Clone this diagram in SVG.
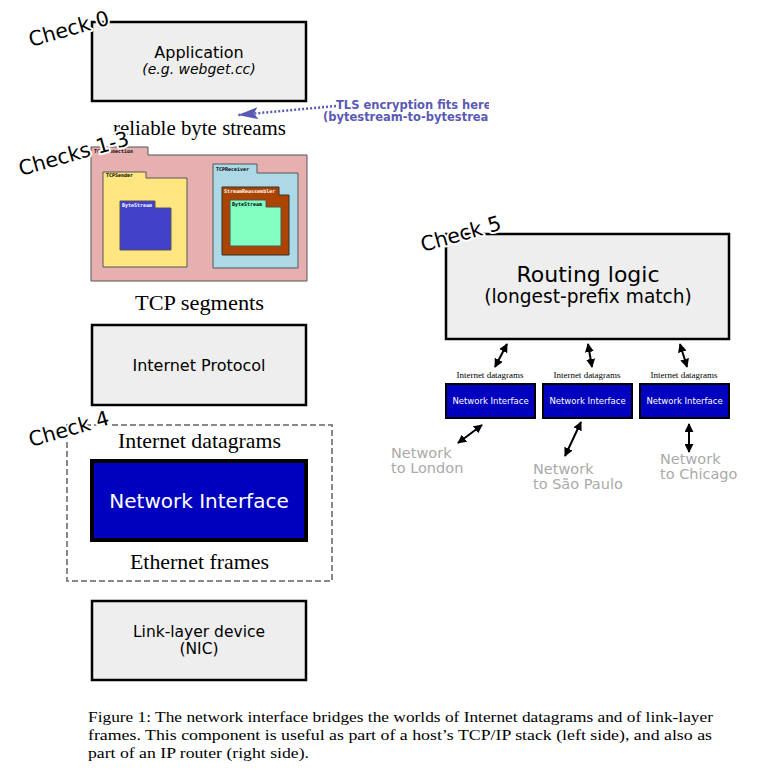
<svg xmlns="http://www.w3.org/2000/svg" width="779" height="778" viewBox="0 0 779 778">
  <defs>
    <style>
      .box { fill: #eeeeee; stroke: #000; stroke-width: 2.5; }
      .ni { fill: #0000bf; stroke: #000; }
      .sans { font-family: "DejaVu Sans", "Liberation Sans", sans-serif; }
      .serif { font-family: "Liberation Serif", "DejaVu Serif", serif; }
      .check { font-family: "DejaVu Sans", sans-serif; font-size: 20.5px; fill: #000; stroke: #fff; stroke-width: 4; paint-order: stroke; stroke-linejoin: round; }
      .tag { font-family: "DejaVu Sans Mono", "Liberation Mono", monospace; font-size: 5px; font-weight: bold; }
      .pkg { stroke: #555; stroke-width: 1; }
      .gray { font-family: "DejaVu Sans", sans-serif; font-size: 14.5px; fill: #aaaaaa; }
      .link { stroke: #000; stroke-width: 2; marker-start: url(#head); marker-end: url(#head); }
      .caption { font-family: "Liberation Serif", "DejaVu Serif", serif; font-size: 15px; fill: #000; }
      .note { font-family: "DejaVu Sans", sans-serif; font-size: 11.5px; font-weight: bold; fill: #5a5ab4; }
    </style>
    <marker id="head" viewBox="0 0 10 10" refX="9" refY="5" markerWidth="4.5" markerHeight="4.5" orient="auto-start-reverse">
      <path d="M0,0 L10,5 L0,10 Z" fill="#000"/>
    </marker>
    <marker id="tls" viewBox="0 0 20 12" refX="20" refY="6" markerUnits="userSpaceOnUse" markerWidth="20" markerHeight="12" orient="auto">
      <path d="M20,6 L0,0 L4,6 L0,12 Z" fill="#5a5ab4"/>
    </marker>
    <clipPath id="note-clip">
      <rect x="300" y="95" width="189" height="30"/>
    </clipPath>
  </defs>

  <!-- Host stack (left side) -->
  <g id="application">
    <rect class="box" x="92" y="22" width="214" height="79"/>
    <text class="sans" x="199" y="58" font-size="16" text-anchor="middle">Application</text>
    <text class="sans" x="199" y="74" font-size="14" font-style="italic" text-anchor="middle">(e.g. webget.cc)</text>
  </g>
  <g id="check0">
    <text class="check" transform="translate(31,47) rotate(-16)">Check 0</text>
  </g>

  <g id="tls-note" clip-path="url(#note-clip)">
    <text class="note" x="336" y="108.5">TLS encryption fits here</text>
    <text class="note" x="323" y="121">(bytestream-to-bytestream)</text>
  </g>

  <g id="label-streams">
    <text class="serif" x="113" y="135" font-size="21" textLength="173" lengthAdjust="spacingAndGlyphs">reliable byte streams</text>
  </g>

  <g id="tcp-connection">
    <path class="pkg" d="M91,155 V147 H148 V155 H307 V281 H91 Z" fill="#e6b0b0"/>
    <text class="tag" x="94" y="153">TCPConnection</text>
    <g id="tcp-sender">
      <path class="pkg" d="M103,178 V172 H146 V178 H187 V267 H103 Z" fill="#ffe680"/>
      <text class="tag" x="106" y="177">TCPSender</text>
      <g id="bytestream-out">
        <path class="pkg" d="M120,208 V201 H155 V208 H171 V250 H120 Z" fill="#4040c8"/>
        <text class="tag" x="122" y="206.5" fill="#ffffff">ByteStream</text>
      </g>
    </g>
    <g id="tcp-receiver">
      <path class="pkg" d="M213,173 V164 H257 V173 H298 V268 H213 Z" fill="#add8e6"/>
      <text class="tag" x="216" y="170.5">TCPReceiver</text>
      <g id="stream-reassembler">
        <path d="M222,195 V187 H279 V195 H289 V255 H222 Z" fill="#aa4400" stroke="#333" stroke-width="1"/>
        <text class="tag" x="224" y="192.5" fill="#ffffff">StreamReassembler</text>
        <g id="bytestream-in">
          <path d="M230,207 V200 H266 V207 H281 V246 H230 Z" fill="#80ffc0" stroke="#555" stroke-width="1"/>
          <text class="tag" x="232" y="205.5" fill="#000">ByteStream</text>
        </g>
      </g>
    </g>
  </g>
  <g id="checks1-3">
    <text class="check" transform="translate(21,176) rotate(-16)">Checks 1-3</text>
  </g>

  <g id="label-segments">
    <text class="serif" x="135" y="310" font-size="21" textLength="129" lengthAdjust="spacingAndGlyphs">TCP segments</text>
  </g>

  <g id="internet-protocol">
    <rect class="box" x="92" y="325" width="214" height="80"/>
    <text class="sans" x="199" y="371" font-size="16" text-anchor="middle">Internet Protocol</text>
  </g>

  <g id="check4-frame">
    <rect x="67" y="425" width="265" height="156" fill="none" stroke="#888" stroke-width="2" stroke-dasharray="6,3"/>
    <text class="check" transform="translate(31,447) rotate(-16)">Check 4</text>
    <text class="serif" x="118" y="448" font-size="21" textLength="163" lengthAdjust="spacingAndGlyphs">Internet datagrams</text>
    <text class="serif" x="130" y="569" font-size="21" textLength="139" lengthAdjust="spacingAndGlyphs">Ethernet frames</text>
  </g>

  <g id="network-interface">
    <rect class="ni" x="92" y="461" width="214" height="79" stroke-width="4"/>
    <text class="sans" x="199" y="508" font-size="20" fill="#ffffff" text-anchor="middle">Network Interface</text>
  </g>

  <g id="nic">
    <rect class="box" x="92" y="601" width="214" height="79"/>
    <text class="sans" x="199" y="637" font-size="15.5" text-anchor="middle">Link-layer device</text>
    <text class="sans" x="199" y="654" font-size="15.5" text-anchor="middle">(NIC)</text>
  </g>

  <!-- Router (right side) -->
  <g id="routing-logic">
    <rect class="box" x="446" y="234" width="283" height="105" stroke-width="3"/>
    <text class="sans" x="588" y="282" font-size="22" text-anchor="middle">Routing logic</text>
    <text class="sans" x="588" y="303" font-size="18.6" text-anchor="middle">(longest-prefix match)</text>
  </g>
  <g id="check5">
    <text class="check" transform="translate(423,252) rotate(-16)">Check 5</text>
  </g>

  <g id="ni-london">
    <text class="serif" x="490" y="378" font-size="9" text-anchor="middle">Internet datagrams</text>
    <rect class="ni" x="446" y="384" width="89" height="34" stroke-width="2"/>
    <text class="sans" x="490.5" y="404" font-size="8.5" fill="#ffffff" text-anchor="middle">Network Interface</text>
  </g>
  <g id="ni-saopaulo">
    <text class="serif" x="587" y="378" font-size="9" text-anchor="middle">Internet datagrams</text>
    <rect class="ni" x="543" y="384" width="89" height="34" stroke-width="2"/>
    <text class="sans" x="587.5" y="404" font-size="8.5" fill="#ffffff" text-anchor="middle">Network Interface</text>
  </g>
  <g id="ni-chicago">
    <text class="serif" x="684" y="378" font-size="9" text-anchor="middle">Internet datagrams</text>
    <rect class="ni" x="640" y="384" width="89" height="34" stroke-width="2"/>
    <text class="sans" x="684.5" y="404" font-size="8.5" fill="#ffffff" text-anchor="middle">Network Interface</text>
  </g>

  <g id="net-london">
    <text class="gray" x="391" y="458">Network</text>
    <text class="gray" x="391" y="473">to London</text>
  </g>
  <g id="net-saopaulo">
    <text class="gray" x="533" y="474">Network</text>
    <text class="gray" x="533" y="489">to São Paulo</text>
  </g>
  <g id="net-chicago">
    <text class="gray" x="660" y="464">Network</text>
    <text class="gray" x="660" y="479">to Chicago</text>
  </g>

  <g id="connectors">
    <path d="M336,106 L238,115" fill="none" stroke="#5a5ab4" stroke-width="2.5" stroke-dasharray="2,2" marker-end="url(#tls)"/>
    <line class="link" x1="507" y1="344" x2="495" y2="367"/>
    <line class="link" x1="588" y1="344" x2="592" y2="367"/>
    <line class="link" x1="680" y1="344" x2="687" y2="367"/>
    <line class="link" x1="482" y1="425" x2="458" y2="443"/>
    <line class="link" x1="581" y1="422" x2="565" y2="456"/>
    <line class="link" x1="689" y1="424" x2="689" y2="452"/>
  </g>

  <g id="caption">
    <text class="caption" x="88" y="722" textLength="625" lengthAdjust="spacingAndGlyphs">Figure 1: The network interface bridges the worlds of Internet datagrams and of link-layer</text>
    <text class="caption" x="88" y="740" textLength="624" lengthAdjust="spacingAndGlyphs">frames. This component is useful as part of a host’s TCP/IP stack (left side), and also as</text>
    <text class="caption" x="88" y="758" textLength="221" lengthAdjust="spacingAndGlyphs">part of an IP router (right side).</text>
  </g>
</svg>
